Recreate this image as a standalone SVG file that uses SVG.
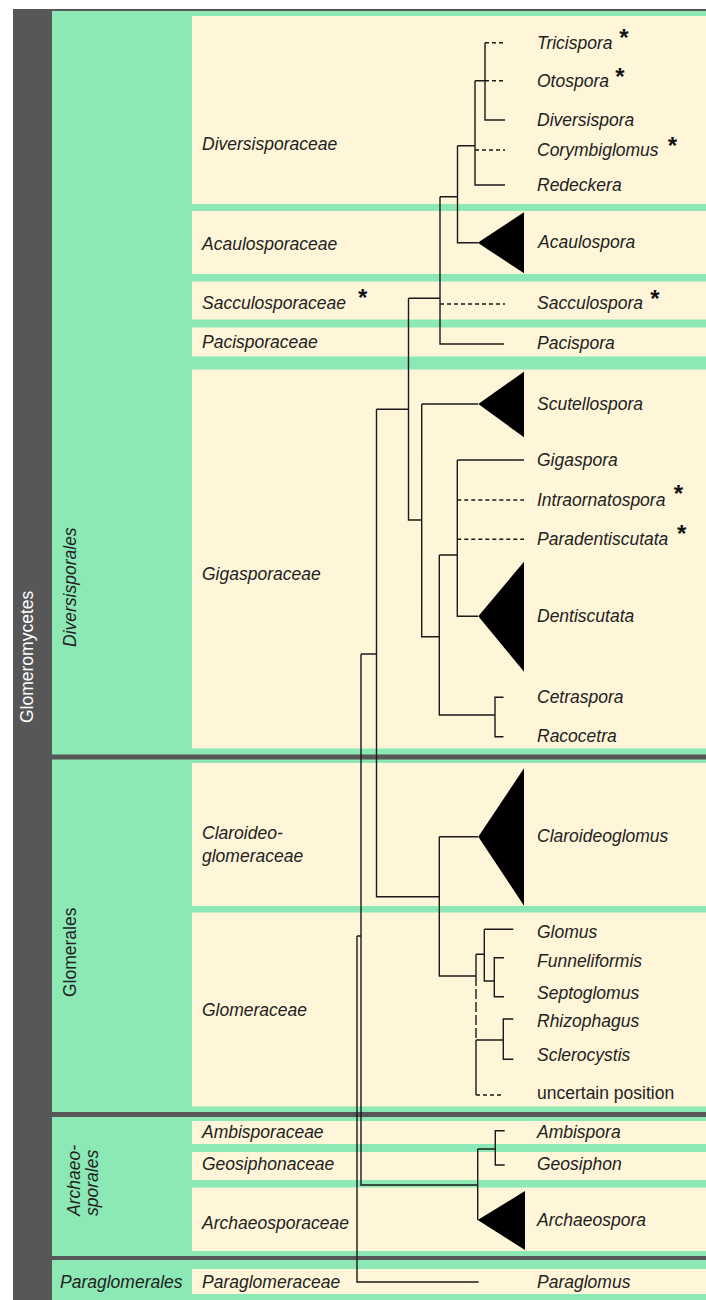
<svg xmlns="http://www.w3.org/2000/svg" width="706" height="1300" viewBox="0 0 706 1300">
<style>
.bg{fill:#575757}
.ord{fill:#8ce8b4}
.fam{fill:#fff5d8}
.t{font-family:"Liberation Sans",Arial,sans-serif;font-size:17.5px;font-style:italic;fill:#222}
.u{font-style:normal}
.w{fill:#ffffff;font-style:normal}
.ast{font-family:"Liberation Sans",Arial,sans-serif;font-size:24px;font-weight:bold;fill:#111;text-anchor:middle}
.ln{fill:none;stroke:#1a1a1a;stroke-width:1.4}
.ds{stroke-dasharray:4 3}
.tri{fill:#000}
</style>
<rect width="706" height="1300" fill="#ffffff"/>
<g id="class-glomeromycetes">
<rect class="bg" x="13" y="9" width="693" height="1291"/>
<text class="t w" transform="translate(33,723) rotate(-90)">Glomeromycetes</text>
</g>
<g id="order-diversisporales">
<rect class="ord" x="52" y="11" width="654" height="743.5"/>
<text class="t" transform="translate(76,647) rotate(-90)">Diversisporales</text>
</g>
<g id="order-glomerales">
<rect class="ord" x="52" y="759.5" width="654" height="352.5"/>
<text class="t u" transform="translate(76,997) rotate(-90)">Glomerales</text>
</g>
<g id="order-archaeosporales">
<rect class="ord" x="52" y="1117" width="654" height="139"/>
<text class="t" transform="translate(80,1216) rotate(-90)">Archaeo-</text>
<text class="t" transform="translate(98,1216) rotate(-90)">sporales</text>
</g>
<g id="order-paraglomerales">
<rect class="ord" x="52" y="1260" width="654" height="40"/>
<text class="t" x="60" y="1288">Paraglomerales</text>
</g>
<g id="fam-diversisporaceae"><rect class="fam" x="192" y="16" width="514" height="188"/><text class="t" x="202" y="150">Diversisporaceae</text></g>
<g id="fam-acaulosporaceae"><rect class="fam" x="192" y="211" width="514" height="63"/><text class="t" x="202" y="250">Acaulosporaceae</text></g>
<g id="fam-sacculosporaceae"><rect class="fam" x="192" y="281.5" width="514" height="38"/><text class="t" x="202" y="309">Sacculosporaceae</text><text class="ast" x="362.7" y="305.5">*</text></g>
<g id="fam-pacisporaceae"><rect class="fam" x="192" y="327.5" width="514" height="29"/><text class="t" x="202" y="348">Pacisporaceae</text></g>
<g id="fam-gigasporaceae"><rect class="fam" x="192" y="369.5" width="514" height="379"/><text class="t" x="202" y="580">Gigasporaceae</text></g>
<g id="fam-claroideoglomeraceae"><rect class="fam" x="192" y="763" width="514" height="143"/><text class="t" x="202" y="839">Claroideo-</text><text class="t" x="202" y="862">glomeraceae</text></g>
<g id="fam-glomeraceae"><rect class="fam" x="192" y="912.5" width="514" height="194"/><text class="t" x="202" y="1016">Glomeraceae</text></g>
<g id="fam-ambisporaceae"><rect class="fam" x="192" y="1121" width="514" height="23"/><text class="t" x="202" y="1138">Ambisporaceae</text></g>
<g id="fam-geosiphonaceae"><rect class="fam" x="192" y="1152" width="514" height="28"/><text class="t" x="202" y="1170">Geosiphonaceae</text></g>
<g id="fam-archaeosporaceae"><rect class="fam" x="192" y="1187.5" width="514" height="63.5"/><text class="t" x="202" y="1229">Archaeosporaceae</text></g>
<g id="fam-paraglomeraceae"><rect class="fam" x="192" y="1269" width="514" height="25"/><text class="t" x="202" y="1288">Paraglomeraceae</text></g>
<g id="connectors">
<path class="ln" d="M485,42.7V120H505M475,80.7H485M475,80.7V185H505M457.5,145.7H475M457.5,145.7V242.7H478M440,196.7H457.5M440,196.7V344H504M408.5,298.3H440M408.5,298.3V520H421.7M421.7,404V636.7H439.3M421.7,404H478M439.3,555V715H495M439.3,555H457.3M457.3,460V616.3H478M457.3,460H524M503.5,697.3H495V736.7H503.5M376.5,409.3H408.5M376.5,409.3V896.7H439.3M439.3,836.7V976H476M439.3,836.7H478M476,954.3V976M476,1040V1095M476,954.3H484.3M484.3,929.3V981H494.3M484.3,929.3H513.3M504,957.7H494.3V996.7H504M476,1040H503.3M513.3,1019H503.3V1059.3H513.3M361,654V1185H477.7M361,654H376.5M357,936H361M357,936V1282H478.6M477.7,1149V1220M477.7,1149H495.3M504.7,1130.7H495.3V1165H504.7"/>
<path class="ln ds" d="M485,42.7H505M485,80.7H505M475,150H505M440,304H505M457.3,500H524M457.3,539.3H524M476,1095H503.3"/>
<path class="ln" stroke="#555" stroke-dasharray="10 3" d="M476,976V1040"/>
<polygon class="tri" points="477.7,242.7 524,212.3 524,273.3"/>
<polygon class="tri" points="478.3,404 524,371.7 524,437.3"/>
<polygon class="tri" points="478.3,616.3 524,561.7 524,671.7"/>
<polygon class="tri" points="478.3,836.7 524,768.3 524,905.7"/>
<polygon class="tri" points="477.7,1220 525,1191 525,1250"/>
</g>
<g id="genus-tricispora"><text class="t" x="537" y="48.5">Tricispora</text><text class="ast" x="624" y="45.5">*</text></g>
<g id="genus-otospora"><text class="t" x="537" y="86.5">Otospora</text><text class="ast" x="620" y="84.8">*</text></g>
<g id="genus-diversispora"><text class="t" x="537" y="125.5">Diversispora</text></g>
<g id="genus-corymbiglomus"><text class="t" x="537" y="155.5">Corymbiglomus</text><text class="ast" x="672.3" y="153.8">*</text></g>
<g id="genus-redeckera"><text class="t" x="537" y="190.5">Redeckera</text></g>
<g id="genus-acaulospora"><text class="t" x="538" y="248">Acaulospora</text></g>
<g id="genus-sacculospora"><text class="t" x="537" y="309">Sacculospora</text><text class="ast" x="655" y="306.5">*</text></g>
<g id="genus-pacispora"><text class="t" x="537" y="349">Pacispora</text></g>
<g id="genus-scutellospora"><text class="t" x="537" y="410">Scutellospora</text></g>
<g id="genus-gigaspora"><text class="t" x="537" y="465.5">Gigaspora</text></g>
<g id="genus-intraornatospora"><text class="t" x="537" y="505.5">Intraornatospora</text><text class="ast" x="678.3" y="501.5">*</text></g>
<g id="genus-paradentiscutata"><text class="t" x="537" y="545">Paradentiscutata</text><text class="ast" x="681.7" y="542.1">*</text></g>
<g id="genus-dentiscutata"><text class="t" x="537" y="622">Dentiscutata</text></g>
<g id="genus-cetraspora"><text class="t" x="537" y="702.5">Cetraspora</text></g>
<g id="genus-racocetra"><text class="t" x="537" y="742">Racocetra</text></g>
<g id="genus-claroideoglomus"><text class="t" x="537" y="842">Claroideoglomus</text></g>
<g id="genus-glomus"><text class="t" x="537" y="937.5">Glomus</text></g>
<g id="genus-funneliformis"><text class="t" x="537" y="967">Funneliformis</text></g>
<g id="genus-septoglomus"><text class="t" x="537" y="999">Septoglomus</text></g>
<g id="genus-rhizophagus"><text class="t" x="537" y="1027">Rhizophagus</text></g>
<g id="genus-sclerocystis"><text class="t" x="537" y="1061">Sclerocystis</text></g>
<g id="genus-uncertain"><text class="t u" x="537" y="1098.5">uncertain position</text></g>
<g id="genus-ambispora"><text class="t" x="537" y="1138">Ambispora</text></g>
<g id="genus-geosiphon"><text class="t" x="537" y="1169.5">Geosiphon</text></g>
<g id="genus-archaeospora"><text class="t" x="537" y="1225.5">Archaeospora</text></g>
<g id="genus-paraglomus"><text class="t" x="537" y="1288">Paraglomus</text></g>
</svg>
